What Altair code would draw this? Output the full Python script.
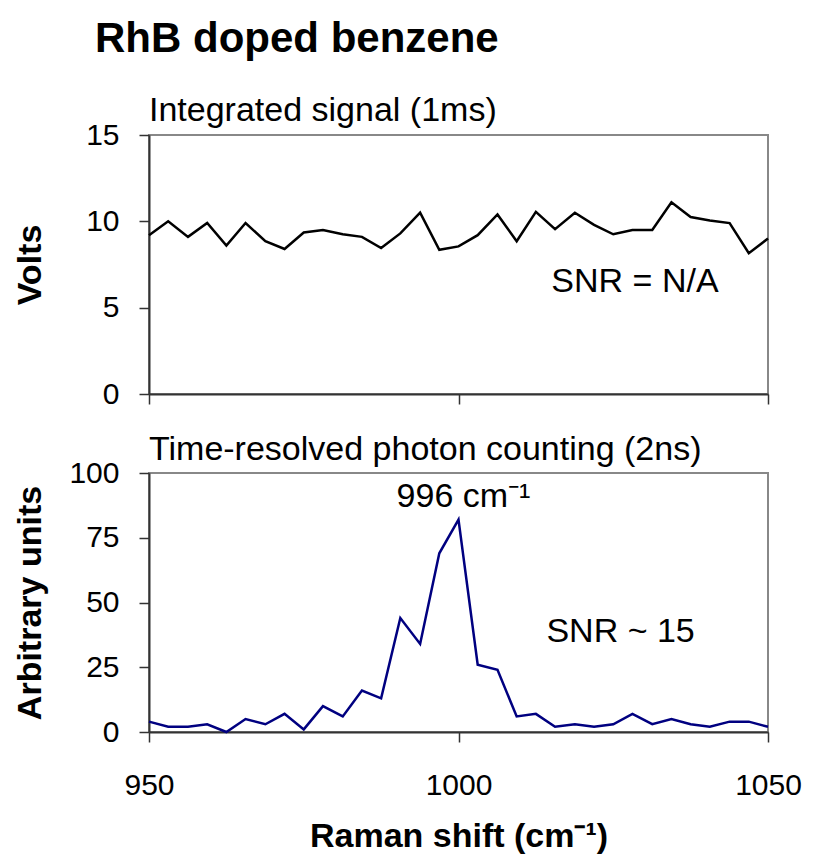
import altair as alt
import pandas as pd

FONT = "Liberation Sans"

# Raman shift positions (cm^-1)
shift = [950.0, 953.1, 956.3, 959.4, 962.5, 965.6, 968.8, 971.9, 975.0, 978.1,
         981.3, 984.4, 987.5, 990.6, 993.8, 996.9, 1000.0, 1003.1, 1006.3, 1009.4,
         1012.5, 1015.6, 1018.8, 1021.9, 1025.0, 1028.1, 1031.3, 1034.4, 1037.5,
         1040.6, 1043.8, 1046.9, 1050.0]

# Integrated signal (Volts)
volts = [9.2, 10.0, 9.1, 9.9, 8.6, 9.9, 8.85, 8.4, 9.35, 9.5, 9.25, 9.1, 8.45,
         9.3, 10.5, 8.35, 8.55, 9.2, 10.4, 8.85, 10.55, 9.55, 10.5, 9.8, 9.25,
         9.5, 9.5, 11.1, 10.25, 10.05, 9.9, 8.15, 9.0]

# Time-resolved photon counting (arbitrary units)
counts = [4, 2, 2, 3, 0, 5, 3, 7, 1, 10, 6, 16, 13, 44, 34, 69, 82, 26, 24, 6,
          7, 2, 3, 2, 3, 7, 3, 5, 3, 2, 4, 4, 2]

x_ticks = [950, 1000, 1050]
volt_ticks = [0, 5, 10, 15]
count_ticks = [0, 25, 50, 75, 100]

top_note_text = ["SNR = N/A"]
top_note_x = [1015]
top_note_y = [6.5]

bot_note_text = ["996 cm\u207b\u00b9", "SNR ~ 15"]
bot_note_x = [990, 1014.2]
bot_note_y = [90.8, 38.5]

W, H = 619, 259

df_top = pd.DataFrame({"shift": shift, "v": volts})
df_bot = pd.DataFrame({"shift": shift, "c": counts})
df_tn = pd.DataFrame({"x": top_note_x, "y": top_note_y, "t": top_note_text})
df_bn = pd.DataFrame({"x": bot_note_x, "y": bot_note_y, "t": bot_note_text})

xscale = alt.Scale(domain=[950, 1050], nice=False, zero=False)

top_line = alt.Chart(df_top).mark_line(color="black", strokeWidth=2.5).encode(
    x=alt.X("shift:Q", scale=xscale,
            axis=alt.Axis(values=x_ticks, labels=False, title=None)),
    y=alt.Y("v:Q", scale=alt.Scale(domain=[0, 15], nice=False),
            axis=alt.Axis(values=volt_ticks, title="Volts", titleX=-119,
                          titleY=H / 2, titleAngle=-90, titleAlign="center",
                          titleBaseline="middle")),
)
top_note = alt.Chart(df_tn).mark_text(align="left", baseline="middle",
                                      fontSize=34, font=FONT, color="black").encode(
    x=alt.X("x:Q", scale=xscale), y="y:Q", text="t:N")

top = alt.layer(top_line, top_note).properties(
    width=W, height=H,
    title=alt.TitleParams("Integrated signal (1ms)", anchor="start", frame="group",
                          fontSize=34, fontWeight="normal", font=FONT,
                          color="black", offset=-8))

bot_line = alt.Chart(df_bot).mark_line(color="#000080", strokeWidth=2.5).encode(
    x=alt.X("shift:Q", scale=xscale,
            axis=alt.Axis(values=x_ticks, format="d", labelFlush=False,
                          labelOverlap=False,
                          title="Raman shift (cm\u207b\u00b9)",
                          labelPadding=28, titlePadding=19)),
    y=alt.Y("c:Q", scale=alt.Scale(domain=[0, 100], nice=False),
            axis=alt.Axis(values=count_ticks, title="Arbitrary units",
                          titleX=-119, titleY=H / 2, titleAngle=-90,
                          titleAlign="center", titleBaseline="middle")),
)
bot_note = alt.Chart(df_bn).mark_text(align="left", baseline="middle",
                                      fontSize=34, font=FONT, color="black").encode(
    x=alt.X("x:Q", scale=xscale), y="y:Q", text="t:N")

bottom = alt.layer(bot_line, bot_note).properties(
    width=W, height=H,
    title=alt.TitleParams("Time-resolved photon counting (2ns)", anchor="start",
                          frame="group", fontSize=34, fontWeight="normal",
                          font=FONT, color="black", offset=-9))

chart = alt.vconcat(top, bottom, spacing=22).properties(
    title=alt.TitleParams("RhB doped benzene", anchor="start", fontSize=42,
                          fontWeight="bold", font=FONT, color="black",
                          dx=83, offset=32),
    padding={"left": 4, "top": 10, "right": 5, "bottom": 5},
).configure_view(
    stroke="#888888", strokeWidth=2
).configure_axis(
    grid=False, domainColor="#333333", domainWidth=2, tickColor="#333333",
    tickWidth=1.5, tickSize=10, labelFont=FONT, labelFontSize=30,
    labelColor="black", labelPadding=20, titleFont=FONT, titleFontSize=34,
    titleFontWeight="bold", titleColor="black"
)

chart.save("out.html", embed_options={"renderer": "svg", "actions": False})
